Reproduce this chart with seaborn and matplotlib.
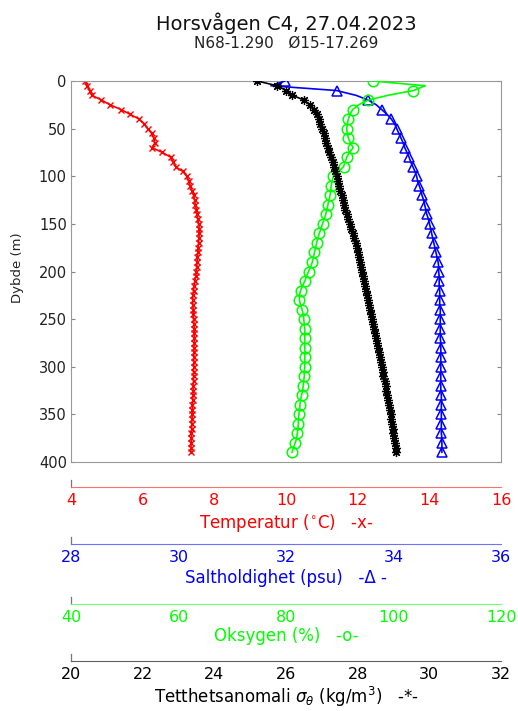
import matplotlib
matplotlib.use("Agg")
import matplotlib.pyplot as plt
import seaborn as sns
from matplotlib.ticker import MultipleLocator

# ---------------- data ----------------
depth = list(range(0, 395, 5))  # m

temperature = [4.39, 4.46, 4.52, 4.58, 4.85, 5.09, 5.40, 5.65, 5.90, 6.05,
               6.14, 6.25, 6.32, 6.34, 6.26, 6.55, 6.78, 6.86, 6.92, 7.12,
               7.23, 7.28, 7.33, 7.37, 7.42, 7.45, 7.47, 7.50, 7.52, 7.54,
               7.56, 7.58, 7.58, 7.57, 7.56, 7.55, 7.54, 7.53, 7.52, 7.51,
               7.50, 7.48, 7.46, 7.44, 7.42, 7.40, 7.40, 7.40, 7.41, 7.41,
               7.42, 7.43, 7.44, 7.44, 7.44, 7.44, 7.43, 7.43, 7.43, 7.43,
               7.43, 7.42, 7.42, 7.42, 7.41, 7.41, 7.40, 7.40, 7.39, 7.39,
               7.38, 7.38, 7.37, 7.37, 7.36, 7.36, 7.35, 7.35, 7.34]

salinity = [31.98, 31.72, 32.94, 33.30, 33.53, 33.68, 33.78, 33.88, 33.96, 34.02,
            34.06, 34.10, 34.14, 34.18, 34.21, 34.25, 34.29, 34.32, 34.36, 34.40,
            34.43, 34.45, 34.48, 34.51, 34.53, 34.56, 34.58, 34.60, 34.62, 34.65,
            34.67, 34.69, 34.71, 34.73, 34.75, 34.77, 34.79, 34.81, 34.83, 34.84,
            34.84, 34.85, 34.85, 34.85, 34.86, 34.86, 34.86, 34.86, 34.87, 34.87,
            34.87, 34.87, 34.87, 34.87, 34.87, 34.88, 34.88, 34.88, 34.88, 34.88,
            34.88, 34.88, 34.88, 34.88, 34.88, 34.88, 34.89, 34.89, 34.89, 34.89,
            34.89, 34.89, 34.89, 34.89, 34.89, 34.90, 34.90, 34.90, 34.90]

oxygen = [96.2, 105.9, 103.7, 99.0, 95.3, 93.5, 92.4, 91.9, 91.6, 91.4,
          91.3, 91.4, 91.6, 92.0, 92.5, 91.8, 91.3, 91.0, 90.7, 89.8,
          88.8, 88.6, 88.4, 88.3, 88.2, 88.0, 87.8, 87.6, 87.4, 87.1,
          86.8, 86.5, 86.2, 85.9, 85.7, 85.5, 85.3, 85.1, 84.9, 84.6,
          84.2, 83.8, 83.5, 83.1, 82.7, 82.5, 82.5, 82.7, 83.0, 83.2,
          83.3, 83.4, 83.5, 83.5, 83.5, 83.5, 83.5, 83.5, 83.5, 83.5,
          83.5, 83.4, 83.4, 83.3, 83.2, 83.1, 82.9, 82.7, 82.6, 82.5,
          82.4, 82.3, 82.3, 82.2, 82.1, 82.0, 81.7, 81.4, 81.1]

density = [25.20, 25.75, 26.00, 26.18, 26.50, 26.66, 26.78, 26.87, 26.92, 26.96,
           27.00, 27.06, 27.10, 27.13, 27.17, 27.20, 27.25, 27.30, 27.34, 27.38,
           27.42, 27.45, 27.48, 27.51, 27.55, 27.59, 27.62, 27.66, 27.70, 27.74,
           27.78, 27.82, 27.86, 27.90, 27.94, 27.97, 28.00, 28.03, 28.06, 28.09,
           28.12, 28.15, 28.18, 28.21, 28.24, 28.27, 28.30, 28.33, 28.35, 28.38,
           28.41, 28.43, 28.46, 28.48, 28.51, 28.54, 28.56, 28.59, 28.62, 28.64,
           28.67, 28.70, 28.72, 28.75, 28.78, 28.80, 28.83, 28.86, 28.88, 28.90,
           28.92, 28.94, 28.96, 28.98, 29.00, 29.02, 29.04, 29.06, 29.07]

depth_ticks = [0, 50, 100, 150, 200, 250, 300, 350, 400]

title = "Horsvågen C4, 27.04.2023"
subtitle = "N68-1.290   Ø15-17.269"
ylabel = "Dybde (m)"
scales = [
    # (values-range, major, minor, color, line color, label)
    ((4, 16), 2, 0.4, "#ff0000", "#ff7070", r"Temperatur ($^{\circ}$C)   -x-"),
    ((28, 36), 2, 0.2, "#0000ff", "#7070ff", "Saltholdighet (psu)   -Δ -"),
    ((40, 120), 20, 2, "#00ff00", "#70ff70", "Oksygen (%)   -o-"),
    ((20, 32), 2, 0.4, "#000000", "#606060", r"Tetthetsanomali $\sigma_{\theta}$ (kg/m$^3$)   -*-"),
]

# ---------------- figure ----------------
sns.set_theme(style="white")
plt.rcParams['font.family'] = ['DejaVu Sans']

W, H = 518, 711
fig = plt.figure(figsize=(W / 100, H / 100), dpi=100)


def fx(px):
    return px / W


def fy(py):
    return 1 - py / H


L, R, T, B = 71, 501, 81, 462
ax = fig.add_axes([fx(L), fy(B), fx(R) - fx(L), fy(T) - fy(B)])
ax_s = ax.twiny()
ax_o = ax.twiny()
ax_d = ax.twiny()

common = dict(sort=False, estimator=None, orient="y", linewidth=1.2)
sns.lineplot(x=temperature, y=depth, ax=ax, color="#ff0000", marker="x",
             markersize=4.8, markeredgewidth=1.0, markeredgecolor="#ff0000", **common)
sns.lineplot(x=salinity, y=depth, ax=ax_s, color="#0000ff", marker="^",
             markersize=7.2, markeredgewidth=1.1, markeredgecolor="#0000ff",
             markerfacecolor="none", markevery=2, **common)
sns.lineplot(x=oxygen, y=depth, ax=ax_o, color="#00ff00", marker="o",
             markersize=7.6, markeredgewidth=1.1, markeredgecolor="#00ff00",
             markerfacecolor="none", markevery=2, **common)
sns.lineplot(x=density, y=depth, ax=ax_d, color="#000000", marker=(8, 2, 0),
             markersize=6.5, markeredgewidth=0.9, markeredgecolor="#000000", **common)

limits = [s[0] for s in scales]
for a, lim in zip([ax, ax_s, ax_o, ax_d], limits):
    a.set_xlim(*lim)
    a.set_xlabel("")
    a.set_ylabel("")

ax.set_ylim(400, 0)
ax.set_yticks(depth_ticks)
ax.tick_params(axis="y", which="major", direction="in", left=True, right=True,
               length=3, width=0.8, color="#888888", labelsize=10.5, pad=3,
               labelcolor="#222222")
ax.tick_params(axis="x", bottom=False, top=False, labelbottom=False, labeltop=False)
for s in ax.spines.values():
    s.set_color("#999999")
    s.set_linewidth(0.8)
for a in [ax_s, ax_o, ax_d]:
    a.tick_params(axis="x", bottom=False, top=False, labelbottom=False, labeltop=False)
    for s in a.spines.values():
        s.set_visible(False)
    a.patch.set_visible(False)

# ---------------- separate x scales below ----------------
line_y = [487, 544, 604, 661]
label_y = [523, 578, 636, 697]
for (lim, major, minor, col, lcol, lab), ly, lab_y in zip(scales, line_y, label_y):
    a = fig.add_axes([fx(L), fy(ly), fx(R) - fx(L), 7 / H])
    a.set_xlim(*lim)
    a.set_ylim(0, 1)
    a.patch.set_visible(False)
    a.set_yticks([])
    for s in ["top", "right"]:
        a.spines[s].set_visible(False)
    a.spines["left"].set_color("#777777")
    a.spines["left"].set_linewidth(0.9)
    a.spines["bottom"].set_color(lcol)
    a.spines["bottom"].set_linewidth(0.8)
    a.xaxis.set_major_locator(MultipleLocator(major))
    a.xaxis.set_minor_locator(MultipleLocator(minor))
    a.tick_params(axis="x", which="major", direction="in", length=3.2, width=0.8,
                  color=lcol, labelcolor=col, labelsize=11.5, pad=4.2)
    a.tick_params(axis="x", which="minor", direction="in", length=1.8, width=0.6,
                  color=lcol)
    fig.text(fx((L + R) / 2), fy(lab_y), lab, color=col, fontsize=12,
             ha="center", va="center")

fig.text(fx(286), fy(23), title, fontsize=14, ha="center", va="center", color="#111111")
fig.text(fx(286), fy(43), subtitle, fontsize=11, ha="center", va="center", color="#222222")
fig.text(fx(18), fy(268), ylabel, fontsize=9.5, rotation=90, ha="center", va="center",
         color="#222222")

fig.savefig("out.png", dpi=100)
